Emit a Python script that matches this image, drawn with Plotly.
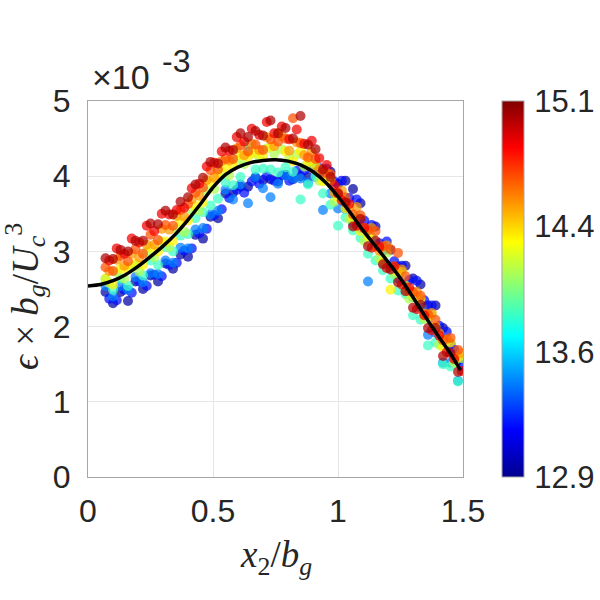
import plotly.graph_objects as go

# ---------------- data ----------------
x_cols = [0.07, 0.10, 0.13, 0.16, 0.19, 0.22, 0.25, 0.28, 0.31, 0.34, 0.37, 0.40,
          0.43, 0.46, 0.49, 0.52, 0.55, 0.58, 0.61, 0.64, 0.67, 0.70, 0.73, 0.76,
          0.79, 0.82, 0.85, 0.88, 0.91, 0.94, 0.97, 1.00, 1.03, 1.06, 1.09, 1.12,
          1.15, 1.18, 1.21, 1.24, 1.27, 1.30, 1.33, 1.36, 1.39, 1.42, 1.45, 1.48]
x_cols_b = [0.085, 0.115, 0.145, 0.175, 0.205, 0.235, 0.265, 0.295, 0.325, 0.355, 0.385, 0.415,
            0.445, 0.475, 0.505, 0.535, 0.565, 0.595, 0.625, 0.655, 0.685, 0.715, 0.745, 0.775,
            0.805, 0.835, 0.865, 0.895, 0.925, 0.955, 0.985, 1.015, 1.045, 1.075, 1.105, 1.135,
            1.165, 1.195, 1.225, 1.255, 1.285, 1.315, 1.345, 1.375, 1.405, 1.435, 1.465, 1.495]

# series on x_cols (colour value -> y values, x10^-3)
y_c1295 = [2.46, 2.31, 2.46, 2.34, 2.60, 2.50, 2.68, 2.60, 2.84, 2.77, 2.96, 2.93,
           3.22, 3.17, 3.46, 3.44, 3.77, 3.78, 3.86, 3.86, 3.98, 3.95, 3.96, 3.93,
           4.02, 3.96, 4.00, 3.99, 4.12, 4.06, 4.06, 3.90, 3.94, 3.83, 3.64, 3.29,
           3.33, 3.01, 3.02, 2.80, 2.81, 2.64, 2.56, 2.28, 2.28, 1.98, 1.77, 1.55]
y_c1345 = [2.54, 2.40, 2.54, 2.49, 2.66, 2.59, 2.71, 2.70, 2.88, 2.85, 3.05, 3.04,
           3.29, 3.31, 3.49, 3.54, 3.82, 3.69, 3.89, 3.64, 3.99, 3.84, 3.72, 3.90,
           4.01, 3.97, 3.97, 3.91, 3.99, 3.55, 3.77, 3.57, 3.56, 3.37, 3.31, 2.60,
           3.07, 2.85, 2.77, 2.64, 2.55, 2.39, 2.25, 1.89, 1.92, 1.52, 1.52, 1.28]
y_c1385 = [2.63, 2.49, 2.64, 2.54, 2.81, 2.68, 2.88, 2.82, 3.06, 3.00, 3.21, 3.23,
           3.44, 3.52, 3.61, 3.70, 3.92, 3.88, 3.99, 4.40, 4.09, 4.10, 4.09, 4.05,
           4.12, 4.06, 3.69, 3.89, 4.00, 3.77, 3.62, 3.34, 3.45, 3.28, 3.18, 2.97,
           2.88, 2.75, 2.64, 2.48, 2.43, 2.15, 2.09, 1.75, 1.79, 1.50, 1.47, 1.27]
y_c1430 = [2.64, 2.56, 2.77, 2.76, 2.84, 2.82, 3.05, 3.00, 3.13, 3.14, 3.39, 3.41,
           3.60, 3.65, 3.92, 4.01, 4.11, 4.15, 4.28, 4.26, 4.31, 4.26, 4.39, 4.57,
           4.33, 4.20, 4.33, 4.19, 4.14, 3.93, 3.94, 3.72, 3.57, 3.43, 3.27, 3.20,
           3.06, 2.87, 2.49, 2.72, 2.54, 2.41, 2.37, 2.13, 2.00, 1.73, 1.79, 1.59]
y_c1465 = [2.79, 2.74, 2.94, 2.87, 3.03, 2.97, 3.22, 3.15, 3.35, 3.34, 3.55, 3.63,
           3.78, 3.85, 4.08, 4.09, 4.23, 4.23, 4.41, 4.33, 4.42, 4.35, 4.49, 4.46,
           4.50, 4.77, 4.44, 4.25, 4.23, 4.04, 4.03, 3.78, 3.72, 3.49, 3.48, 3.28,
           3.27, 3.07, 3.03, 2.98, 2.67, 2.46, 2.41, 2.16, 2.09, 1.82, 1.85, 1.69]
y_c1500 = [2.91, 2.90, 3.02, 3.00, 3.14, 3.14, 3.37, 3.36, 3.54, 3.49, 3.66, 3.72,
           3.89, 3.98, 4.19, 4.17, 4.38, 4.35, 4.57, 4.52, 4.60, 4.54, 4.74, 4.57,
           4.64, 4.50, 4.80, 4.42, 4.36, 4.09, 3.99, 3.77, 3.65, 3.33, 3.43, 3.07,
           3.14, 2.83, 2.76, 2.59, 2.47, 2.25, 2.29, 1.98, 1.98, 1.61, 1.65, 1.40]

# series on x_cols_b
y_c1320 = [2.37, 2.35, 2.49, 2.45, 2.60, 2.54, 2.69, 2.67, 2.82, 2.85, 3.01, 3.04,
           3.24, 3.30, 3.48, 3.56, 3.71, 3.82, 3.78, 3.93, 3.90, 4.00, 3.94, 4.01,
           3.94, 4.07, 4.08, 4.12, 4.11, 4.10, 3.93, 3.94, 3.71, 3.69, 3.41, 3.35,
           3.11, 3.13, 2.87, 2.81, 2.62, 2.61, 2.35, 2.28, 2.01, 1.93, 1.69, 1.48]
y_c1410 = [2.58, 2.72, 2.64, 2.80, 2.74, 2.99, 2.92, 3.13, 3.06, 3.30, 3.26, 3.54,
           3.54, 3.80, 3.83, 4.06, 4.01, 4.22, 4.16, 4.30, 4.25, 4.37, 4.30, 4.36,
           4.24, 4.29, 4.13, 4.17, 3.94, 3.95, 3.66, 3.71, 3.43, 3.47, 3.14, 3.18,
           2.91, 2.98, 2.70, 2.73, 2.37, 2.39, 2.10, 2.15, 1.76, 1.81, 1.52, 1.58]
y_c1450 = [2.74, 2.89, 2.81, 2.97, 2.92, 3.09, 3.09, 3.30, 3.29, 3.47, 3.46, 3.69,
           3.74, 3.95, 3.98, 4.20, 4.21, 4.37, 4.28, 4.43, 4.35, 4.52, 4.40, 4.53,
           4.34, 4.45, 4.28, 4.32, 4.09, 4.05, 3.78, 3.81, 3.58, 3.59, 3.31, 3.31,
           3.01, 3.08, 2.80, 2.76, 2.47, 2.46, 2.17, 2.18, 1.91, 1.83, 1.59, 1.65]
y_c1485 = [2.88, 3.04, 2.97, 3.17, 3.12, 3.34, 3.27, 3.50, 3.49, 3.55, 3.58, 3.84,
           3.90, 4.13, 4.18, 4.33, 4.34, 4.52, 4.46, 4.63, 4.55, 4.72, 4.57, 4.66,
           4.49, 4.62, 4.43, 4.47, 4.24, 4.15, 3.88, 3.68, 3.63, 3.34, 3.31, 3.05,
           3.06, 2.78, 2.80, 2.56, 2.52, 2.23, 2.15, 1.95, 1.88, 1.66, 1.57, 1.41]

# fitted curve
curve_x = [0.00, 0.05, 0.10, 0.15, 0.20, 0.25, 0.30, 0.35, 0.40, 0.45, 0.50, 0.55,
           0.60, 0.65, 0.70, 0.75, 0.80, 0.85, 0.90, 0.95, 1.00, 1.05, 1.10, 1.15,
           1.20, 1.25, 1.30, 1.35, 1.40, 1.45, 1.49]
curve_y = [2.54, 2.56, 2.61, 2.69, 2.80, 2.93, 3.07, 3.23, 3.42, 3.63, 3.85, 4.02,
           4.12, 4.18, 4.21, 4.22, 4.20, 4.15, 4.06, 3.92, 3.73, 3.51, 3.28, 3.07,
           2.86, 2.64, 2.39, 2.13, 1.88, 1.64, 1.42]

x_ticks = [0, 0.5, 1, 1.5]
x_tick_text = ["0", "0.5", "1", "1.5"]
y_ticks = [0, 1, 2, 3, 4, 5]
c_min, c_max = 12.9, 15.1
c_tick_text = ["12.9", "13.6", "14.4", "15.1"]

# ---------------- build figure ----------------
series = [
    (12.95, x_cols, y_c1295), (13.20, x_cols_b, y_c1320),
    (13.45, x_cols, y_c1345), (13.85, x_cols, y_c1385),
    (14.10, x_cols_b, y_c1410), (14.30, x_cols, y_c1430),
    (14.50, x_cols_b, y_c1450), (14.65, x_cols, y_c1465),
    (14.85, x_cols_b, y_c1485), (15.00, x_cols, y_c1500),
]
px, py, pc = [], [], []
for cval, xs, ys in series:
    for xv, yv in zip(xs, ys):
        px.append(xv)
        py.append(yv)
        pc.append(cval)

jet = [[0.0, "rgb(0,0,143)"], [0.125, "rgb(0,0,255)"], [0.375, "rgb(0,255,255)"],
       [0.625, "rgb(255,255,0)"], [0.875, "rgb(255,0,0)"], [1.0, "rgb(128,0,0)"]]

c_tick_vals = [c_min + i * (c_max - c_min) / 3 for i in range(4)]

TICKFONT = dict(family="Liberation Sans, Arial, sans-serif", size=32, color="#262626")
MATHFONT = dict(family="Liberation Serif, Times New Roman, serif", size=37, color="#262626")

fig = go.Figure()
fig.add_trace(go.Scatter(
    x=px, y=py, mode="markers",
    marker=dict(size=10, color=pc, colorscale=jet, cmin=c_min, cmax=c_max,
                opacity=0.72, line=dict(width=0),
                colorbar=dict(
                    x=(502 - 88) / 375, xanchor="left", xpad=0,
                    y=0.5, yanchor="middle", len=1, lenmode="fraction",
                    thickness=22, ypad=0,
                    outlinewidth=1, outlinecolor="#a6a6a6",
                    tickvals=c_tick_vals, ticktext=c_tick_text,
                    ticks="outside", ticklen=4, tickcolor="rgba(0,0,0,0)",
                    tickfont=dict(TICKFONT, size=31))),
    showlegend=False, hoverinfo="skip"))

fig.add_trace(go.Scatter(x=curve_x, y=curve_y, mode="lines",
                         line=dict(color="black", width=3.5, shape="spline", smoothing=0.6),
                         showlegend=False, hoverinfo="skip"))

axis_common = dict(showline=True, linecolor="#a6a6a6", linewidth=1, mirror=True,
                   showgrid=True, gridcolor="#e6e6e6", gridwidth=1, zeroline=False,
                   ticks="", tickfont=TICKFONT)

fig.update_xaxes(range=[0, 1.5], tickvals=x_ticks, ticktext=x_tick_text,
                 ticklabelstandoff=6, **axis_common)
fig.update_yaxes(range=[0, 5], tickvals=y_ticks, ticktext=[str(v) for v in y_ticks],
                 ticklabelstandoff=10, **axis_common)

fig.update_layout(
    width=600, height=600,
    margin=dict(l=88, r=137, t=101, b=123, autoexpand=False),
    paper_bgcolor="white", plot_bgcolor="white",
    annotations=[
        dict(text="×10", x=0, y=1, xref="paper", yref="paper", xanchor="left",
             yanchor="bottom", xshift=2, yshift=3, showarrow=False,
             font=dict(TICKFONT, size=34)),
        dict(text="-3", x=0, y=1, xref="paper", yref="paper", xanchor="left",
             yanchor="bottom", xshift=72, yshift=20, showarrow=False, font=TICKFONT),
        dict(text="<i>x</i><sub>2</sub>/<i>b</i><sub><i>g</i></sub>",
             x=0.5, y=0, xref="paper", yref="paper", xanchor="center", yanchor="top",
             yshift=-55, showarrow=False, font=MATHFONT),
        dict(text="<i>ϵ</i> × <i>b</i><sub><i>g</i></sub>/<i>U</i><sub><i>c</i></sub><sup>3</sup>",
             x=0, y=0.5, xref="paper", yref="paper", xanchor="right", yanchor="middle",
             xshift=-35, yshift=-8, textangle=-90, showarrow=False, font=MATHFONT),
    ],
)

fig.write_html("out.html")
